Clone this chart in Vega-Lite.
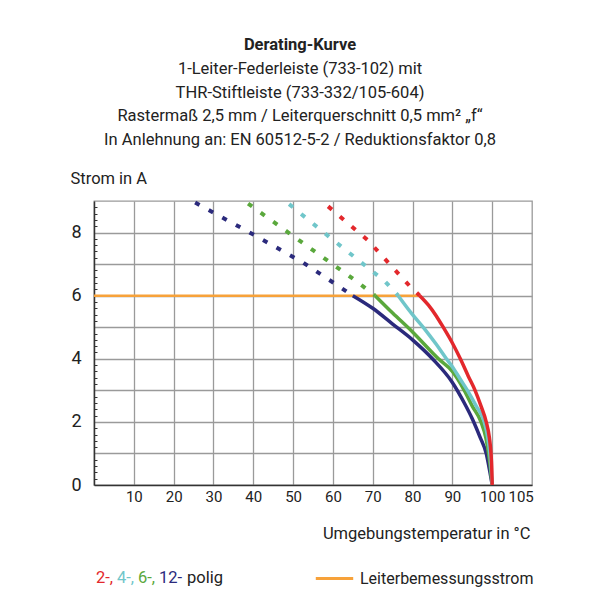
{
  "$schema": "https://vega.github.io/schema/vega-lite/v6.json",
  "width": 438,
  "height": 284,
  "autosize": {"type": "none"},
  "padding": {"left": 94, "top": 201, "right": 68, "bottom": 115},
  "background": "white",
  "config": {
    "font": "Roboto, sans-serif",
    "view": {"stroke": "#9a9a9a", "strokeWidth": 1.3}
  },
  "title": {
    "text": "Derating-Kurve",
    "subtitle": [
      "1-Leiter-Federleiste (733-102) mit",
      "THR-Stiftleiste (733-332/105-604)",
      "Rastermaß 2,5 mm / Leiterquerschnitt 0,5 mm² „f“",
      "In Anlehnung an: EN 60512-5-2 / Reduktionsfaktor 0,8"
    ],
    "fontSize": 16.5,
    "fontWeight": "bold",
    "color": "#222222",
    "subtitleFontSize": 16.5,
    "subtitleColor": "#222222",
    "subtitleLineHeight": 23.5,
    "subtitlePadding": 8,
    "anchor": "middle",
    "frame": "group",
    "dx": -13,
    "offset": 22
  },
  "datasets": {
    "nenn": [
      {"typ": "Leiterbemessungsstrom", "von": 0, "bis": 81.8, "strom": 6}
    ],
    "kurven": [
      {"polig": "12", "temp": 65, "strom": 6},
      {"polig": "12", "temp": 70, "strom": 5.6},
      {"polig": "12", "temp": 75, "strom": 5.1},
      {"polig": "12", "temp": 80, "strom": 4.6},
      {"polig": "12", "temp": 85, "strom": 4.0},
      {"polig": "12", "temp": 90, "strom": 3.25},
      {"polig": "12", "temp": 93, "strom": 2.6},
      {"polig": "12", "temp": 95, "strom": 2.1},
      {"polig": "12", "temp": 97, "strom": 1.5},
      {"polig": "12", "temp": 98.5, "strom": 1.0},
      {"polig": "12", "temp": 99.3, "strom": 0.5},
      {"polig": "12", "temp": 100, "strom": 0},
      {"polig": "6", "temp": 70.6, "strom": 6},
      {"polig": "6", "temp": 75, "strom": 5.45},
      {"polig": "6", "temp": 80, "strom": 4.85},
      {"polig": "6", "temp": 86.5, "strom": 4.0},
      {"polig": "6", "temp": 90, "strom": 3.6},
      {"polig": "6", "temp": 93, "strom": 3.0},
      {"polig": "6", "temp": 95, "strom": 2.5},
      {"polig": "6", "temp": 97.2, "strom": 2.0},
      {"polig": "6", "temp": 98.4, "strom": 1.5},
      {"polig": "6", "temp": 99.1, "strom": 1.0},
      {"polig": "6", "temp": 99.6, "strom": 0.5},
      {"polig": "6", "temp": 100, "strom": 0},
      {"polig": "4", "temp": 76.4, "strom": 6},
      {"polig": "4", "temp": 80, "strom": 5.4},
      {"polig": "4", "temp": 83, "strom": 4.95},
      {"polig": "4", "temp": 86, "strom": 4.45},
      {"polig": "4", "temp": 88.5, "strom": 4.0},
      {"polig": "4", "temp": 90, "strom": 3.75},
      {"polig": "4", "temp": 92, "strom": 3.35},
      {"polig": "4", "temp": 94, "strom": 2.95},
      {"polig": "4", "temp": 96, "strom": 2.5},
      {"polig": "4", "temp": 98, "strom": 2.0},
      {"polig": "4", "temp": 98.9, "strom": 1.5},
      {"polig": "4", "temp": 99.4, "strom": 1.0},
      {"polig": "4", "temp": 99.75, "strom": 0.5},
      {"polig": "4", "temp": 100, "strom": 0},
      {"polig": "2", "temp": 81.8, "strom": 6},
      {"polig": "2", "temp": 84, "strom": 5.7},
      {"polig": "2", "temp": 86, "strom": 5.35},
      {"polig": "2", "temp": 87.7, "strom": 5.0},
      {"polig": "2", "temp": 90, "strom": 4.5},
      {"polig": "2", "temp": 92, "strom": 4.0},
      {"polig": "2", "temp": 94, "strom": 3.45},
      {"polig": "2", "temp": 95.7, "strom": 3.0},
      {"polig": "2", "temp": 97.2, "strom": 2.5},
      {"polig": "2", "temp": 98.5, "strom": 2.0},
      {"polig": "2", "temp": 99.3, "strom": 1.5},
      {"polig": "2", "temp": 99.7, "strom": 1.0},
      {"polig": "2", "temp": 99.9, "strom": 0.5},
      {"polig": "2", "temp": 100, "strom": 0}
    ],
    "strich": [
      {"polig": "12", "temp": 25.4, "strom": 8.95},
      {"polig": "12", "temp": 38.7, "strom": 8.03},
      {"polig": "12", "temp": 52.5, "strom": 7.05},
      {"polig": "12", "temp": 65, "strom": 6},
      {"polig": "6", "temp": 38.7, "strom": 8.92},
      {"polig": "6", "temp": 48.8, "strom": 8.0},
      {"polig": "6", "temp": 66, "strom": 6.45},
      {"polig": "6", "temp": 70.6, "strom": 6},
      {"polig": "4", "temp": 49, "strom": 8.9},
      {"polig": "4", "temp": 59, "strom": 7.87},
      {"polig": "4", "temp": 73.1, "strom": 6.45},
      {"polig": "4", "temp": 76.4, "strom": 6},
      {"polig": "2", "temp": 58.8, "strom": 8.83},
      {"polig": "2", "temp": 68.8, "strom": 7.75},
      {"polig": "2", "temp": 79.4, "strom": 6.29},
      {"polig": "2", "temp": 81.8, "strom": 6}
    ]
  },
  "layer": [
    {
      "data": {"name": "nenn"},
      "mark": {"type": "rule", "strokeWidth": 2.5},
      "encoding": {
        "x": {
          "field": "von", "type": "quantitative",
          "scale": {"domain": [0, 110], "nice": false, "zero": false},
          "axis": {
            "orient": "top", "values": [10, 20, 30, 40, 50, 60, 70, 80, 90, 100],
            "grid": true, "gridColor": "#9a9a9a", "gridWidth": 1.3,
            "labels": false, "ticks": false, "domain": false, "title": null
          }
        },
        "x2": {"field": "bis"},
        "y": {
          "field": "strom", "type": "quantitative",
          "scale": {"domain": [0, 9], "nice": false, "zero": false},
          "axis": {
            "orient": "right", "values": [1, 2, 3, 4, 5, 6, 7, 8],
            "grid": true, "gridColor": "#9a9a9a", "gridWidth": 1.3,
            "labels": false, "ticks": false, "domain": false, "title": null
          }
        },
        "stroke": {
          "field": "typ", "type": "nominal",
          "scale": {"range": ["#f7a23a"]},
          "legend": {
            "orient": "none", "legendX": 220, "legendY": 357,
            "title": null, "symbolType": "stroke", "symbolSize": 1400,
            "symbolStrokeWidth": 3, "labelFontSize": 16, "labelColor": "#222222",
            "labelOffset": 5, "labelLimit": 0,
            "encode": {"symbols": {"update": {"stroke": {"value": "#ef7b2f"}}}}
          }
        }
      }
    },
    {
      "data": {"name": "kurven"},
      "mark": {"type": "line", "strokeWidth": 3.5, "interpolate": "monotone"},
      "encoding": {
        "x": {
          "field": "temp", "type": "quantitative",
          "axis": {
            "orient": "bottom", "values": [10, 20, 30, 40, 50, 60, 70, 80, 90, 100],
            "grid": false, "ticks": false, "domain": true, "domainColor": "#333333", "domainWidth": 1.5,
            "labelFontSize": 15, "labelColor": "#222222", "labelPadding": 4, "labelOverlap": false,
            "labelFlush": false,
            "title": "Umgebungstemperatur in °C", "titleFontSize": 16.5, "titleFontWeight": "normal",
            "titleColor": "#222222", "titleAnchor": "end", "titleAlign": "right",
            "titleX": 436, "titleY": 48, "titleBaseline": "middle"
          }
        },
        "y": {
          "field": "strom", "type": "quantitative",
          "axis": {
            "orient": "left", "values": [0, 2, 4, 6, 8],
            "grid": false, "ticks": false, "domain": true, "domainColor": "#333333", "domainWidth": 1.5,
            "labelFontSize": 18, "labelColor": "#222222", "labelPadding": 13,
            "title": "Strom in A", "titleFontSize": 16.5, "titleFontWeight": "normal",
            "titleColor": "#222222", "titleAngle": 0, "titleAlign": "left",
            "titleX": -24, "titleY": -23, "titleBaseline": "middle"
          }
        },
        "color": {
          "field": "polig", "type": "nominal",
          "scale": {"domain": ["2", "4", "6", "12"], "range": ["#e3282c", "#70c6ca", "#5aa83c", "#2b2a7c"]},
          "legend": {
            "orient": "none", "legendX": 2, "legendY": 369, "direction": "horizontal",
            "title": "polig", "titleOrient": "right", "titleFontSize": 16.5, "titleFontWeight": "normal",
            "titleColor": "#222222", "titlePadding": 5, "padding": 0, "gridAlign": "none",
            "labelFontSize": 16.5, "symbolType": "circle", "symbolSize": 1, "symbolOpacity": 0, "symbolStrokeWidth": 0,
            "labelOffset": -16.5, "columnPadding": 3,
            "labelExpr": "datum.label + (datum.value == '12' ? '-' : '-,')",
            "encode": {"labels": {"update": {"fill": {"signal": "scale('color', datum.value)"}}}}
          }
        }
      }
    },
    {
      "data": {"name": "strich"},
      "mark": {"type": "line", "strokeWidth": 4, "strokeDash": [5, 10.5], "strokeCap": "butt"},
      "encoding": {
        "x": {
          "field": "temp", "type": "quantitative",
          "axis": {
            "orient": "bottom", "values": [105],
            "grid": false, "labels": true, "domain": false, "ticks": false,
            "labelFontSize": 15, "labelColor": "#222222", "labelPadding": 4, "labelOverlap": false,
            "labelFlush": false, "labelOffset": 8.5, "title": null
          }
        },
        "y": {
          "field": "strom", "type": "quantitative",
          "axis": {
            "orient": "left",
            "values": [0.2, 0.4, 0.6, 0.8, 1.2, 1.4, 1.6, 1.8, 2.2, 2.4, 2.6, 2.8, 3.2, 3.4, 3.6, 3.8, 4.2, 4.4, 4.6, 4.8, 5.2, 5.4, 5.6, 5.8, 6.2, 6.4, 6.6, 6.8, 7.2, 7.4, 7.6, 7.8, 8.2, 8.4, 8.6, 8.8],
            "grid": false, "labels": false, "domain": false, "ticks": true,
            "tickSize": -3, "tickColor": "#333333", "tickWidth": 1, "title": null
          }
        },
        "color": {"field": "polig", "type": "nominal"},
        "detail": {"field": "polig"}
      }
    }
  ],
  "resolve": {"axis": {"x": "independent", "y": "independent"}}
}
